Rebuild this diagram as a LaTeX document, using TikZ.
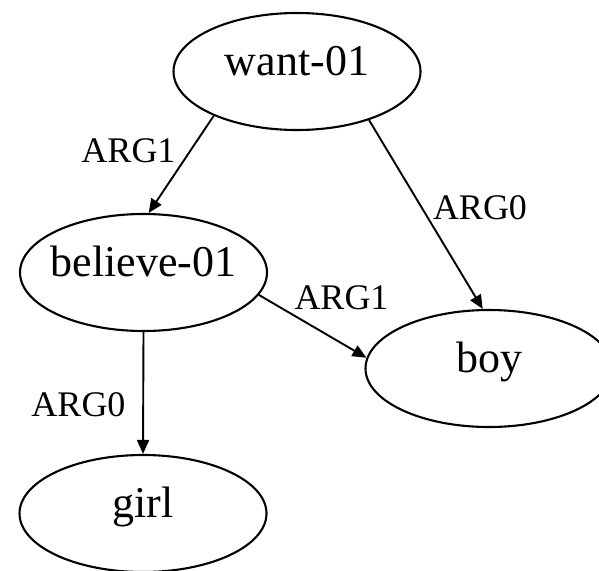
\documentclass[tikz,border=0pt]{standalone}
\usepackage{fontspec}
\setmainfont{Liberation Serif}
\usetikzlibrary{shapes.geometric,arrows.meta}

\tikzset{
  concept/.style={ellipse, draw, line width=2.1pt, minimum width=247pt,
    minimum height=117pt, inner sep=0pt,
    font=\fontsize{44}{50}\selectfont, text height=0.78em, text depth=0pt},
  rel/.style={-{Triangle[length=14pt,width=12pt]}, line width=1.9pt},
  role/.style={inner sep=0pt, font=\fontsize{36}{42}\selectfont}
}

\begin{document}
\begin{tikzpicture}[x=1pt, y=-1pt]
  \useasboundingbox (0,0) rectangle (599,570);

  % concepts
  \node[concept] (want)    at (297,71.5) {\makebox[0pt]{want-01}};
  \node[concept] (believe) at (143.5,272.5) {\makebox[0pt]{believe-01}};
  \node[concept] (boy)     at (489,368.5) {\makebox[0pt]{boy}};
  \node[concept] (girl)    at (143,513.5) {\makebox[0pt]{girl}};

  % relations
  \draw[rel] (want.208) -- (believe.85);
  \draw[rel] (want.326) -- (boy.96);
  \draw[rel] (believe.349) -- (boy.175);
  \draw[rel] (believe.south) -- (girl.north);

  % role labels
  \node[role] (l1) at (128.5,151) {ARG1};
  \node[role] (l2) at (480,208) {ARG0};
  \node[role] (l3) at (341.5,297.5) {ARG1};
  \node[role] (l4) at (78.5,405)  {ARG0};
\end{tikzpicture}
\end{document}
